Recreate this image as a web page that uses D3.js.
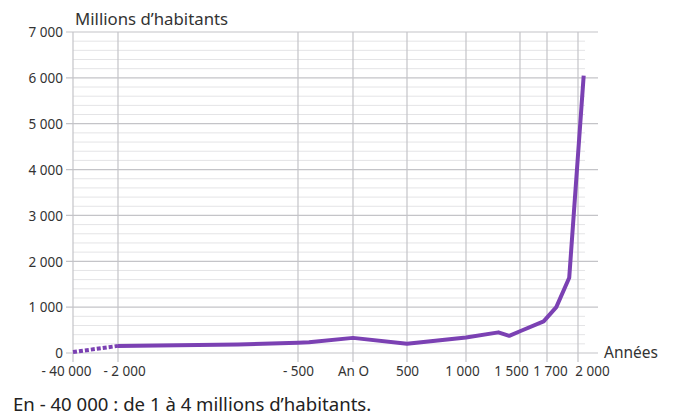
<!DOCTYPE html>
<html lang="fr">
<head>
<meta charset="utf-8">
<title>Population mondiale</title>
<script src="https://cdn.jsdelivr.net/npm/d3@7/dist/d3.min.js"></script>
<style>
body{margin:0;background:#fff;}
text{font-family:"Noto Sans","Open Sans",sans-serif;fill:#333;}
.axis path,.axis line{display:none;}
</style>
</head>
<body>
<div id="main"></div>
<script>

// years shown on the x axis (non linear spacing in the original)
var tickYears = [-40000, -2000, -500, 0, 500, 1000, 1500, 1700, 2000]
var yTicks = [0, 1000, 2000, 3000, 4000, 5000, 6000, 7000]

// millions of inhabitants
var dottedYears = [-40000, -2000]
var dottedValues = [20, 155]
var lineYears = [-2000, -1000, -500, -400, 0, 500, 1000, 1300, 1400, 1500, 1675, 1790, 1915, 2055]
var lineValues = [155, 185, 225, 235, 330, 200, 340, 450, 375, 475, 690, 1000, 1640, 6050]

var width = 676, height = 419

var svg = d3.select("#main").append("svg").attr("width", width).attr("height", height)

// x is piecewise : each labelled year gets its own spot
var x = d3.scaleLinear().domain(tickYears).range([73, 118, 298, 353, 407, 466, 520, 547, 578])
var y = d3.scaleLinear().domain([0, 7000]).range([353, 32])

var left = 73, right = 598, minorRight = 585

// minor gridlines every 200
var minors = d3.range(200, 7000, 200).filter(function(d){ return d % 1000 != 0 })
svg.append("g").selectAll("line").data(minors).enter().append("line")
  .attr("x1", left).attr("x2", minorRight)
  .attr("y1", function(d){ return y(d) }).attr("y2", function(d){ return y(d) })
  .attr("stroke", "#e4e4e6").attr("stroke-width", 1)

// major horizontal gridlines
svg.append("g").selectAll("line").data(yTicks).enter().append("line")
  .attr("x1", left - 7).attr("x2", right)
  .attr("y1", function(d){ return y(d) }).attr("y2", function(d){ return y(d) })
  .attr("stroke", "#c4c4c8").attr("stroke-width", 1.2)

// vertical gridlines
svg.append("g").selectAll("line").data(tickYears).enter().append("line")
  .attr("x1", function(d){ return x(d) }).attr("x2", function(d){ return x(d) })
  .attr("y1", y(7000)).attr("y2", y(0) + 9)
  .attr("stroke", "#c4c4c8").attr("stroke-width", 1.2)

// y labels
var fmt = function(d){ return d3.format(",")(Math.abs(d)).replace(/,/g, " ") }
var yAxis = svg.append("g").attr("class", "axis").attr("transform", "translate(" + (left - 10) + ",0)")
  .call(d3.axisLeft(y).tickValues(yTicks).tickSize(0).tickPadding(0).tickFormat(fmt))
yAxis.selectAll("text").style("font-size", "13.5px").attr("dy", "0.35em")

// x labels, a few are nudged like in the original
var nudge = {"-40000": -7, "-2000": 6, "1000": -4, "1500": -9, "1700": 3, "2000": 14}
var xAxis = svg.append("g").attr("class", "axis").attr("transform", "translate(0," + (y(0) + 13) + ")")
  .call(d3.axisBottom(x).tickValues(tickYears).tickSize(0).tickPadding(0)
    .tickFormat(function(d){ return d == 0 ? "An O" : (d < 0 ? "- " : "") + fmt(d) }))
xAxis.selectAll("text").style("font-size", "13.5px")
  .attr("dx", function(d){ return nudge[d] || 0 })

// the curve
var line = d3.line().x(function(d){ return x(d[0]) }).y(function(d){ return y(d[1]) })

svg.append("path").datum(d3.zip(dottedYears, dottedValues))
  .attr("d", line).attr("fill", "none")
  .attr("stroke", "#7b41b3").attr("stroke-width", 4).attr("stroke-dasharray", "4,2")

svg.append("path").datum(d3.zip(lineYears, lineValues))
  .attr("d", line).attr("fill", "none")
  .attr("stroke", "#7b41b3").attr("stroke-width", 4).attr("stroke-linejoin", "round")

// titles
svg.append("text").attr("x", 75).attr("y", 25).style("font-size", "16.8px").text("Millions d’habitants")
svg.append("text").attr("x", 604).attr("y", y(0) + 5).style("font-size", "15.5px").text("Années")
svg.append("text").attr("x", 13).attr("y", 411).style("font-size", "18.6px").style("fill", "#222")
  .text("En - 40 000 : de 1 à 4 millions d’habitants.")

</script>
</body>
</html>
